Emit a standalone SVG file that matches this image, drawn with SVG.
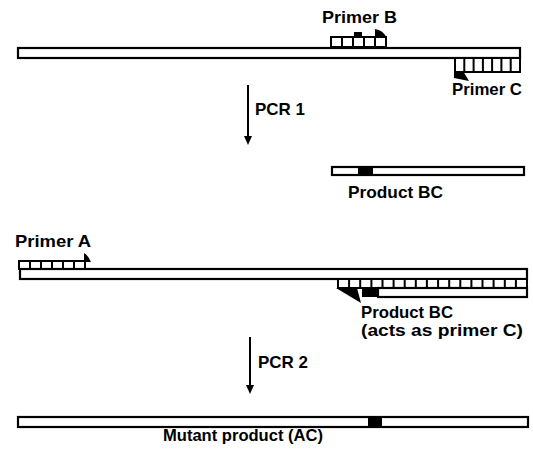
<svg xmlns="http://www.w3.org/2000/svg" width="533" height="455" viewBox="0 0 533 455">
<defs>
<style>
.bar{fill:#fff;stroke:#000;stroke-width:2.2}
.box{fill:#fff;stroke:#000;stroke-width:2}
.div{stroke:#000;stroke-width:2}
.blk{fill:#000}
.lbl{font-family:"Liberation Sans",Arial,sans-serif;font-weight:bold;font-size:17px;fill:#000}
.arr{stroke:#000;stroke-width:2;fill:none}
</style>
</defs>
<rect width="533" height="455" fill="#fff"/>

<g id="template1">
<rect class="bar" x="18" y="48" width="502" height="10"/>
</g>

<g id="primerB">
<rect class="box" x="331" y="37" width="55" height="10"/>
<path class="div" d="M342,37V47M353,37V47M364,37V47M375,37V47"/>
<rect class="blk" x="354" y="32" width="8" height="5"/>
<path class="blk" d="M375,38 L375,29 Q383,30 387,38 Z"/>
<text class="lbl" x="322" y="23" textLength="75" lengthAdjust="spacingAndGlyphs">Primer B</text>
</g>

<g id="primerC">
<rect class="box" x="455" y="58" width="65" height="14"/>
<path class="div" d="M464.3,58V72M473.6,58V72M482.9,58V72M492.1,58V72M501.4,58V72M510.7,58V72"/>
<path class="blk" d="M454,71 L454,78 L469,81 L463,71 Z"/>
<text class="lbl" x="452" y="95" textLength="70" lengthAdjust="spacingAndGlyphs">Primer C</text>
</g>

<g id="productBC1">
<rect class="bar" x="332" y="167" width="192" height="8"/>
<rect class="blk" x="358" y="167" width="15" height="8"/>
<text class="lbl" x="348" y="198" textLength="95" lengthAdjust="spacingAndGlyphs">Product BC</text>
</g>

<g id="primerA">
<rect class="box" x="19" y="261" width="66" height="8"/>
<path class="div" d="M30,261V269M41,261V269M52,261V269M63,261V269M74,261V269"/>
<path class="blk" d="M84,262 L84,253 Q88,255 91,262 Z"/>
<text class="lbl" x="15" y="247" textLength="76" lengthAdjust="spacingAndGlyphs">Primer A</text>
</g>

<g id="template2">
<rect class="bar" x="20" y="269" width="507" height="10"/>
</g>

<g id="productBC2">
<rect class="box" x="338" y="279" width="189" height="9"/>
<path class="div" d="M349.1,279V288M360.2,279V288M371.4,279V288M382.5,279V288M393.6,279V288M404.7,279V288M415.8,279V288M426.9,279V288M438.1,279V288M449.2,279V288M460.3,279V288M471.4,279V288M482.5,279V288M493.6,279V288M504.8,279V288M515.9,279V288"/>
<rect class="bar" x="378" y="288" width="149" height="9"/>
<rect class="blk" x="362" y="288" width="16" height="9"/>
<path class="blk" d="M336,288 L357,288 L361,303 Z"/>
<text class="lbl" x="361" y="318" textLength="92" lengthAdjust="spacingAndGlyphs">Product BC</text>
<text class="lbl" x="361" y="336" textLength="162" lengthAdjust="spacingAndGlyphs">(acts as primer C)</text>
</g>

<g id="mutantProduct">
<rect class="bar" x="18" y="417" width="510" height="10"/>
<rect class="blk" x="368" y="417" width="14" height="10"/>
<text class="lbl" x="163" y="441" textLength="160" lengthAdjust="spacingAndGlyphs">Mutant product (AC)</text>
</g>

<g id="connectors">
<line class="arr" x1="248" y1="85" x2="248" y2="137"/>
<path class="blk" d="M244,136 L252,136 L248,145 Z"/>
<text class="lbl" x="255" y="115" textLength="50" lengthAdjust="spacingAndGlyphs">PCR 1</text>
<line class="arr" x1="250" y1="337" x2="250" y2="386"/>
<path class="blk" d="M246,385 L254,385 L250,394 Z"/>
<text class="lbl" x="258" y="368" textLength="50" lengthAdjust="spacingAndGlyphs">PCR 2</text>
</g>
</svg>
